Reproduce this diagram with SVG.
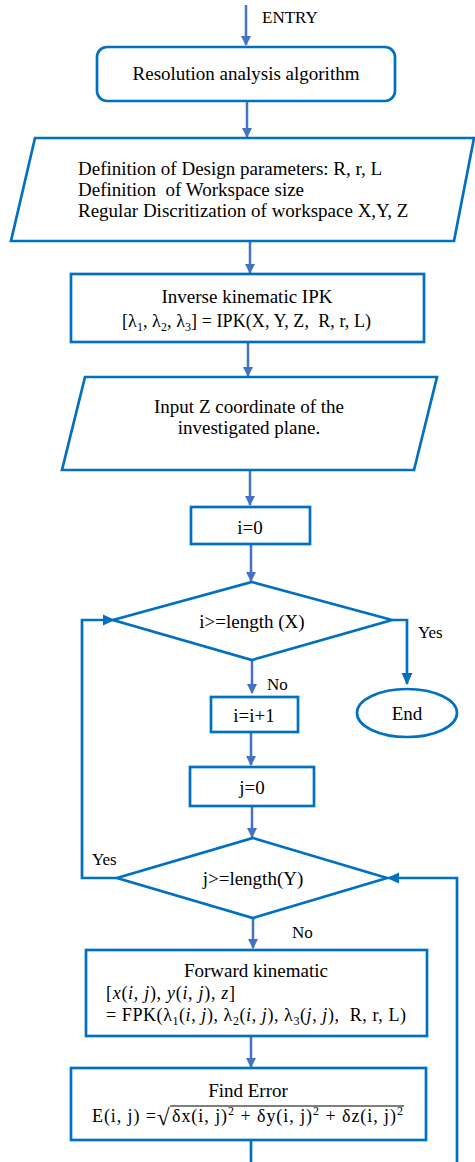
<svg xmlns="http://www.w3.org/2000/svg" width="475" height="1162" viewBox="0 0 475 1162">
<defs>
<marker id="ah" markerWidth="10" markerHeight="10" refX="9" refY="5" orient="auto" markerUnits="userSpaceOnUse" viewBox="0 0 10 10">
<path d="M0,0 L10,5 L0,10 Z" fill="#4472C4"/>
</marker>
<marker id="ahd" markerWidth="12" markerHeight="12" refX="11" refY="6" orient="auto" markerUnits="userSpaceOnUse" viewBox="0 0 12 12">
<path d="M0,0.5 L12,6 L0,11.5 Z" fill="#0070C0"/>
</marker>
<style>
.s{fill:#fff;stroke:#0070C0;stroke-width:2.7}
.c{fill:none;stroke:#4472C4;stroke-width:2.5;marker-end:url(#ah)}
.l{fill:none;stroke:#0070C0;stroke-width:2.7}
.t{font-family:"Liberation Serif","Times New Roman",serif;font-size:19px;fill:#000}
.lb{font-family:"Liberation Serif","Times New Roman",serif;font-size:17px;fill:#000}
.m{font-family:"Liberation Serif","Times New Roman",serif;font-size:18px;fill:#000}
.sub{font-size:12px}
.i{font-style:italic}
.mid{text-anchor:middle}
</style>
</defs>
<g id="connectors">
<path class="c" d="M246,5 V45"/>
<text class="lb" x="262" y="23">ENTRY</text>
<path class="c" d="M247,101 V137"/>
<path class="c" d="M250,241 V273"/>
<path class="c" d="M248,342 V376"/>
<path class="c" d="M250,470 V505"/>
<path class="c" d="M251,544 V581"/>
<path class="c" d="M252,660 V693"/>
<path class="c" d="M251,732 V765"/>
<path class="c" d="M252,806 V837"/>
<path class="c" d="M253,918 V948"/>
<path class="c" d="M251,1036 V1067"/>
<path class="l" d="M251,1140 V1162"/>
<path class="l" d="M392,620 H407 V684" style="marker-end:url(#ahd)"/>
<path class="l" d="M117,878 H82 V620 H114" style="marker-end:url(#ahd)"/>
<path class="l" d="M457,1162 V878 H388" style="marker-end:url(#ahd)"/>
<text class="lb" x="418" y="638">Yes</text>
<text class="lb" x="267" y="690">No</text>
<text class="lb" x="92" y="865">Yes</text>
<text class="lb" x="292" y="938">No</text>
</g>
<g id="start">
<rect class="s" x="97" y="47" width="298" height="54" rx="10"/>
<text class="t mid" x="246" y="80">Resolution analysis algorithm</text>
</g>
<g id="params">
<polygon class="s" points="35,138 474,138 454,241 11,241"/>
<text class="t" x="78" y="175">Definition of Design parameters: R, r, L</text>
<text class="t" x="78" y="196" xml:space="preserve">Definition  of Workspace size</text>
<text class="t" x="78" y="217">Regular Discritization of workspace X,Y, Z</text>
</g>
<g id="ipk">
<rect class="s" x="71" y="274" width="353" height="68"/>
<text class="t mid" x="247" y="303">Inverse kinematic IPK</text>
<text class="m" x="122" y="327" textLength="249" lengthAdjust="spacing" xml:space="preserve">[λ<tspan class="sub" dy="4">1</tspan><tspan dy="-4">, λ</tspan><tspan class="sub" dy="4">2</tspan><tspan dy="-4">, λ</tspan><tspan class="sub" dy="4">3</tspan><tspan dy="-4">] = IPK(X, Y, Z,  R, r, L)</tspan></text>
</g>
<g id="inputz">
<polygon class="s" points="85,377 437,377 414,470 62,470"/>
<text class="t mid" x="249" y="413">Input Z coordinate of the</text>
<text class="t mid" x="249" y="434">investigated plane.</text>
</g>
<g id="i0">
<rect class="s" x="191" y="507" width="119" height="37"/>
<text class="t mid" x="250" y="534">i=0</text>
</g>
<g id="condi">
<polygon class="s" points="252,582 392,620 252,660 113,620"/>
<text class="t mid" x="252" y="628">i&gt;=length (X)</text>
</g>
<g id="end">
<ellipse class="s" cx="407" cy="713" rx="50" ry="24"/>
<text class="t mid" x="407" y="720">End</text>
</g>
<g id="iinc">
<rect class="s" x="211" y="697" width="87" height="35"/>
<text class="t mid" x="254" y="722">i=i+1</text>
</g>
<g id="j0">
<rect class="s" x="190" y="767" width="124" height="39"/>
<text class="t mid" x="252" y="794">j=0</text>
</g>
<g id="condj">
<polygon class="s" points="253,838 387,878 253,918 117,878"/>
<text class="t mid" x="253" y="885">j&gt;=length(Y)</text>
</g>
<g id="fpk">
<rect class="s" x="86" y="950" width="341" height="86"/>
<text class="t mid" x="256" y="977">Forward kinematic</text>
<text class="m" x="106" y="999" textLength="129" lengthAdjust="spacing">[<tspan class="i">x</tspan>(<tspan class="i">i</tspan>, <tspan class="i">j</tspan>), <tspan class="i">y</tspan>(<tspan class="i">i</tspan>, <tspan class="i">j</tspan>), <tspan class="i">z</tspan>]</text>
<text class="m" x="106" y="1021" textLength="300" lengthAdjust="spacing" xml:space="preserve">= FPK(λ<tspan class="sub" dy="4">1</tspan><tspan dy="-4">(</tspan><tspan class="i">i</tspan>, <tspan class="i">j</tspan>), λ<tspan class="sub" dy="4">2</tspan><tspan dy="-4">(</tspan><tspan class="i">i</tspan>, <tspan class="i">j</tspan>), λ<tspan class="sub" dy="4">3</tspan><tspan dy="-4">(</tspan><tspan class="i">j</tspan>, <tspan class="i">j</tspan>),  R, r, L)</text>
</g>
<g id="error">
<rect class="s" x="71" y="1068" width="355" height="72"/>
<text class="t mid" x="248" y="1097">Find Error</text>
<text class="m" x="92" y="1122" textLength="64" lengthAdjust="spacing">E(i, j) =</text>
<text class="m" x="157" y="1125" style="font-size:23px">√</text>
<text class="m" x="172" y="1122" textLength="231" lengthAdjust="spacing">δx(i, j)<tspan class="sub" dy="-7">2</tspan><tspan dy="7"> + δy(i, j)</tspan><tspan class="sub" dy="-7">2</tspan><tspan dy="7"> + δz(i, j)</tspan><tspan class="sub" dy="-7">2</tspan></text>
<path d="M170,1106 H404" stroke="#000" stroke-width="1.2"/>
</g>
</svg>
